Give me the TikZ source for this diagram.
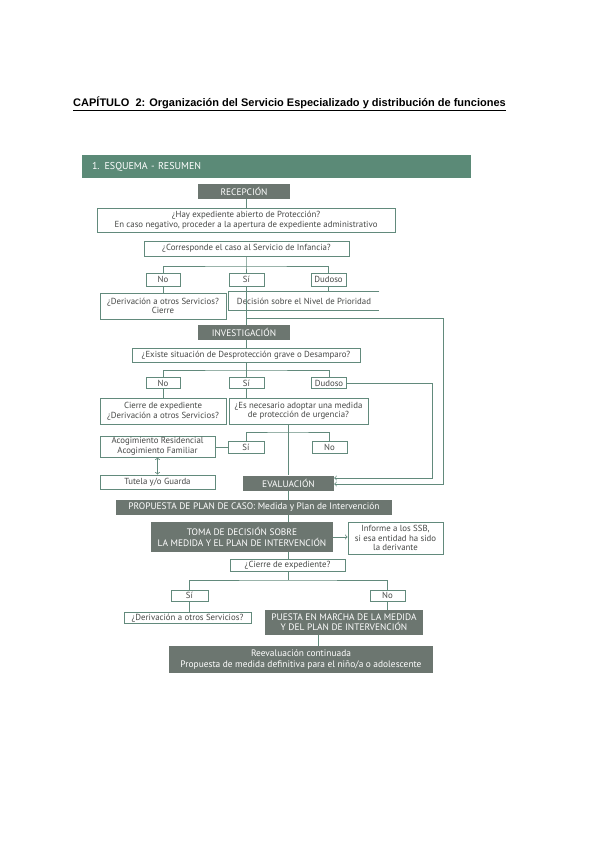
\documentclass[tikz,border=0pt]{standalone}
\usepackage{fontspec}
\setmainfont{PT Sans}
\newfontfamily\arialfont{Liberation Sans}
\definecolor{verde}{RGB}{91,138,119}
\definecolor{gris}{RGB}{108,118,112}
\definecolor{trazo}{RGB}{98,138,124}
\definecolor{texto}{RGB}{70,72,70}
\begin{document}
\begin{tikzpicture}[x=1pt,y=-1pt]
\tikzset{caja/.style={draw=trazo, line width=0.8pt, fill=white, text=texto, inner sep=1pt, align=center, font=\fontsize{8.8}{9.6}\selectfont},
oscura/.style={fill=gris, text=white, inner sep=1pt, align=center, font=\fontsize{9.4}{10.2}\selectfont},
con/.style={draw=trazo, line width=0.8pt}}
\useasboundingbox (0,0) rectangle (600,848);
\node[font=\arialfont\bfseries\fontsize{11}{12}\selectfont] (T) at (289.5,104) {\underline{CAPÍTULO\ \ 2: Organización del Servicio Especializado y distribución de funciones}};
\node[fill=verde, text=white, minimum width=389pt, minimum height=23pt, text width=369pt, inner xsep=10pt, align=left, font=\fontsize{10}{11}\selectfont] (H) at (276.5,166.5) {1. ESQUEMA - RESUMEN};
% recepcion
\node[oscura, minimum width=92pt, minimum height=15pt] (R) at (244,191.5) {RECEPCIÓN};
\node[caja, minimum width=298pt, minimum height=24pt] (Q1) at (246,220) {¿Hay expediente abierto de Protección?\\En caso negativo, proceder a la apertura de expediente administrativo};
\node[caja, minimum width=205pt, minimum height=15pt] (Q2) at (246.5,248.5) {¿Corresponde el caso al Servicio de Infancia?};
\node[caja, minimum width=34pt, minimum height=13pt] (N1) at (163,279.5) {No};
\node[caja, minimum width=35pt, minimum height=13pt] (S1) at (246.5,279.5) {Sí};
\node[caja, minimum width=35pt, minimum height=13pt] (D1) at (328.5,279.5) {Dudoso};
\node[caja, minimum width=126pt, minimum height=26pt] (A1) at (163,306) {¿Derivación a otros Servicios?\\Cierre};
\node[caja, draw=none, minimum width=150pt, minimum height=18pt] (P) at (304,301) {Decisión sobre el Nivel de Prioridad};
\draw[con] (P.north east) -- (P.north west) -- (P.south west) -- (P.south east);
% investigacion
\node[oscura, minimum width=92pt, minimum height=15pt] (I) at (244,332.5) {INVESTIGACIÓN};
\node[caja, minimum width=228pt, minimum height=14pt] (Q3) at (246,355) {¿Existe situación de Desprotección grave o Desamparo?};
\node[caja, minimum width=34pt, minimum height=11pt] (N2) at (163,383) {No};
\node[caja, minimum width=35pt, minimum height=11pt] (S2) at (246.5,383) {Sí};
\node[caja, minimum width=35pt, minimum height=11pt] (D2) at (329,383) {Dudoso};
\node[caja, minimum width=126pt, minimum height=26pt] (A2) at (163,411) {Cierre de expediente\\¿Derivación a otros Servicios?};
\node[caja, minimum width=139pt, minimum height=26pt] (Q4) at (298.5,411) {¿Es necesario adoptar una medida\\de protección de urgencia?};
\node[caja, minimum width=36pt, minimum height=12pt] (S3) at (246,447) {Sí};
\node[caja, minimum width=35pt, minimum height=12pt] (N3) at (329.5,447) {No};
\node[caja, minimum width=115pt, minimum height=21pt] (AC) at (157.5,446.5) {Acogimiento Residencial\\Acogimiento Familiar};
\node[caja, minimum width=115pt, minimum height=14pt] (TU) at (157.5,482) {Tutela y/o Guarda};
% evaluacion
\node[oscura, minimum width=91pt, minimum height=15pt] (E) at (288.5,483) {EVALUACIÓN};
\node[oscura, minimum width=276pt, minimum height=15pt] (PR) at (254,507.5) {PROPUESTA DE PLAN DE CASO: Medida y Plan de Intervención};
\node[oscura, minimum width=182pt, minimum height=30pt] (TO) at (242,537) {TOMA DE DECISIÓN SOBRE\\LA MEDIDA Y EL PLAN DE INTERVENCIÓN};
\node[caja, minimum width=95pt, minimum height=32pt] (IN) at (395.5,538) {Informe a los SSB,\\si esa entidad ha sido\\la derivante};
\node[caja, minimum width=115pt, minimum height=12pt] (Q5) at (287.5,565) {¿Cierre de expediente?};
\node[caja, minimum width=37pt, minimum height=11pt] (S4) at (189.5,595.5) {Sí};
\node[caja, minimum width=35pt, minimum height=11pt] (N4) at (387.5,595.5) {No};
\node[caja, minimum width=127pt, minimum height=11pt] (A3) at (187.5,618) {¿Derivación a otros Servicios?};
\node[oscura, minimum width=158pt, minimum height=25pt] (PU) at (344,622.5) {PUESTA EN MARCHA DE LA MEDIDA\\Y DEL PLAN DE INTERVENCIÓN};
\node[oscura, minimum width=264pt, minimum height=27pt] (RE) at (301,659.5) {Reevaluación continuada\\Propuesta de medida definitiva para el niño/a o adolescente};
% ramas
\coordinate (B1) at (246,266);
\coordinate (B2) at (246,318);
\coordinate (B3) at (246,370);
\coordinate (B4) at (288,432);
\coordinate (B5) at (288,580);
\draw[con] (R.south -| Q1.north) -- (Q1.north);
\draw[con] (Q1.south) -- (Q2.north |- Q1.south);
\draw[con] (Q2.south -| B1) -- (B1) -- (S1.north -| B1);
\draw[con] (N1.north) |- (B1) -| (D1.north);
\draw[con] (N1.south) -- (A1.north);
\draw[con] (D1.south) -- (D1.south |- P.north);
\draw[con] (S1.south -| B1) -- (I.north -| B1);
\draw[con, ->] (B2) -| (443,484) -- (E.east |- 0,484);
\draw[con] (I.south -| B3) -- (Q3.north -| B3);
\draw[con] (Q3.south -| B3) -- (S2.north -| B3);
\draw[con] (N2.north) |- (B3) -| (D2.north);
\draw[con] (N2.south) -- (A2.north);
\draw[con] (S2.south -| B3) -- (Q4.north -| B3);
\draw[con, ->] (D2.east) -| (432,478) -- (E.east |- 0,478);
\draw[con] (Q4.south -| B4) -- (E.north -| B4);
\draw[con] (S3.north -| B3) |- (B4) -| (N3.north);
\draw[con] (S3.west) -- (AC.east |- S3.west);
\draw[con, <->] (AC.south) -- (TU.north);
\draw[con] (E.south -| B4) -- (PR.north -| B4);
\draw[con] (PR.south -| B4) -- (TO.north -| B4);
\draw[con, ->] (TO.east) -- (IN.west |- TO.east);
\draw[con] (TO.south -| B4) -- (Q5.north -| B4);
\draw[con] (Q5.south -| B5) -- (B5);
\draw[con] (S4.north) |- (B5) -| (N4.north);
\draw[con] (S4.south) -- (A3.north -| S4.south);
\draw[con] (N4.south) -- (PU.north -| N4.south);
\draw[con] (PU.south -| 318,0) -- (RE.north -| 318,0);
\end{tikzpicture}
\end{document}
